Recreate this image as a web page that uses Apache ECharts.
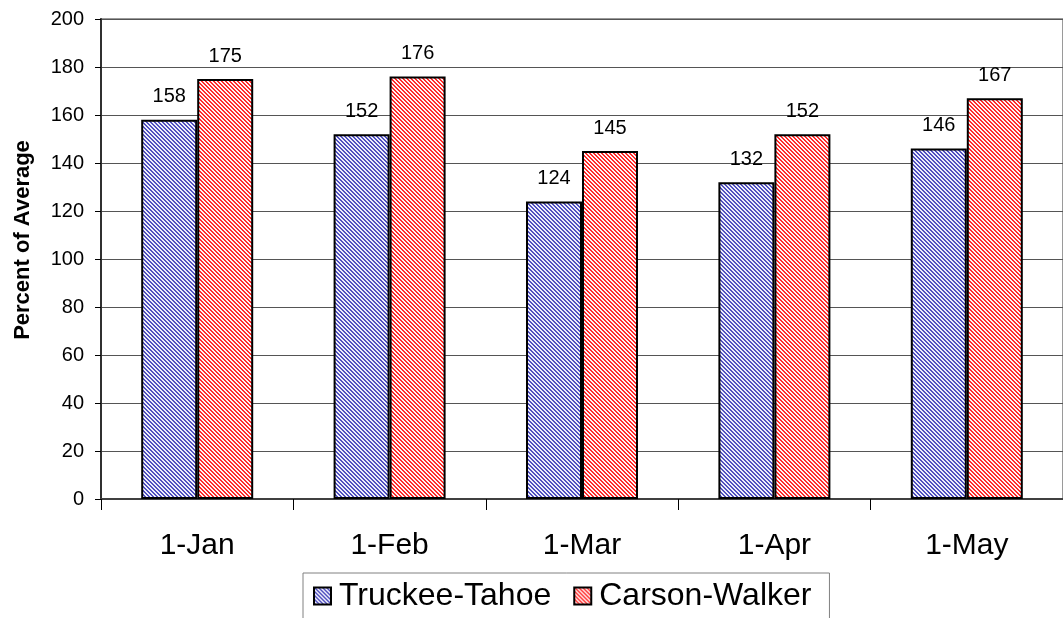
<!DOCTYPE html>
<html><head><meta charset="utf-8">
<script src="https://cdn.jsdelivr.net/npm/echarts@6/dist/echarts.min.js"></script>
<style>html,body{margin:0;padding:0;background:#fff}#c{width:1063px;height:618px}</style>
</head><body><div id="c"></div>
<script>
const categories = ['1-Jan', '1-Feb', '1-Mar', '1-Apr', '1-May'];
const truckeeTahoe = [158, 152, 124, 132, 146];
const carsonWalker = [175, 176, 145, 152, 167];
const yTicks = [0, 20, 40, 60, 80, 100, 120, 140, 160, 180, 200];

function pattern(line, bg) {
  const c = document.createElement('canvas');
  c.width = 4; c.height = 4;
  const g = c.getContext('2d');
  g.fillStyle = bg; g.fillRect(0, 0, 4, 4);
  g.fillStyle = line;
  for (let y = 0; y < 4; y++) {
    g.fillRect(y % 4, y, 1, 1);
    g.fillRect((y + 1) % 4, y, 1, 1);
  }
  return { image: c, repeat: 'repeat' };
}
const bluePat = pattern('#5050c0', '#eeeefa');
const redPat = pattern('#ff2a2a', '#fff2f2');

const chart = echarts.init(document.getElementById('c'));
const font = 'Liberation Sans, Arial, sans-serif';
chart.setOption({
  animation: false,
  textStyle: { fontFamily: font },
  grid: { left: 101, right: -8, top: 19, bottom: 119, show: true, borderColor: '#9a9a9a', borderWidth: 2 },
  legend: {
    left: 303, top: 573,
    data: ['Truckee-Tahoe', 'Carson-Walker'],
    itemWidth: 17, itemHeight: 17, itemGap: 22,
    padding: [7, 18, 12, 10],
    borderColor: '#808080', borderWidth: 1,
    icon: 'rect',
    textStyle: { fontSize: 32, color: '#000', fontFamily: font, padding: [0, 0, 0, 3] },
    itemStyle: { borderColor: '#000', borderWidth: 2 }
  },
  xAxis: {
    type: 'category', data: categories,
    axisLine: { lineStyle: { color: '#404040', width: 2 } },
    axisTick: { show: true, length: 11, lineStyle: { color: '#000', width: 1 } },
    axisLabel: { fontSize: 30, color: '#000', margin: 32, fontFamily: font },
    splitLine: { show: false }
  },
  yAxis: {
    type: 'value', min: 0, max: 200, interval: 20,
    name: 'Percent of Average', nameLocation: 'middle', nameGap: 67, nameRotate: 90,
    nameTextStyle: { fontSize: 22, fontWeight: 'bold', color: '#000', fontFamily: font, padding: [0, 0, 0, 38] },
    axisLine: { show: true, lineStyle: { color: '#303030', width: 2 } },
    axisTick: { show: true, length: 6, lineStyle: { color: '#000' } },
    axisLabel: { fontSize: 20, color: '#000', margin: 17, fontFamily: font,
      formatter: v => yTicks.includes(v) ? String(v) : '' },
    splitLine: { show: true, lineStyle: { color: '#555', width: 1 } }
  },
  series: [
    { name: 'Truckee-Tahoe', type: 'bar', data: truckeeTahoe, barWidth: 56, barGap: '0%',
      itemStyle: { color: bluePat, borderColor: '#000', borderWidth: 2 },
      label: { show: true, position: 'top', distance: 13, fontSize: 20, color: '#000', fontFamily: font } },
    { name: 'Carson-Walker', type: 'bar', data: carsonWalker, barWidth: 56, barGap: '0%',
      itemStyle: { color: redPat, borderColor: '#000', borderWidth: 2 },
      label: { show: true, position: 'top', distance: 13, fontSize: 20, color: '#000', fontFamily: font } }
  ]
});
</script></body></html>
